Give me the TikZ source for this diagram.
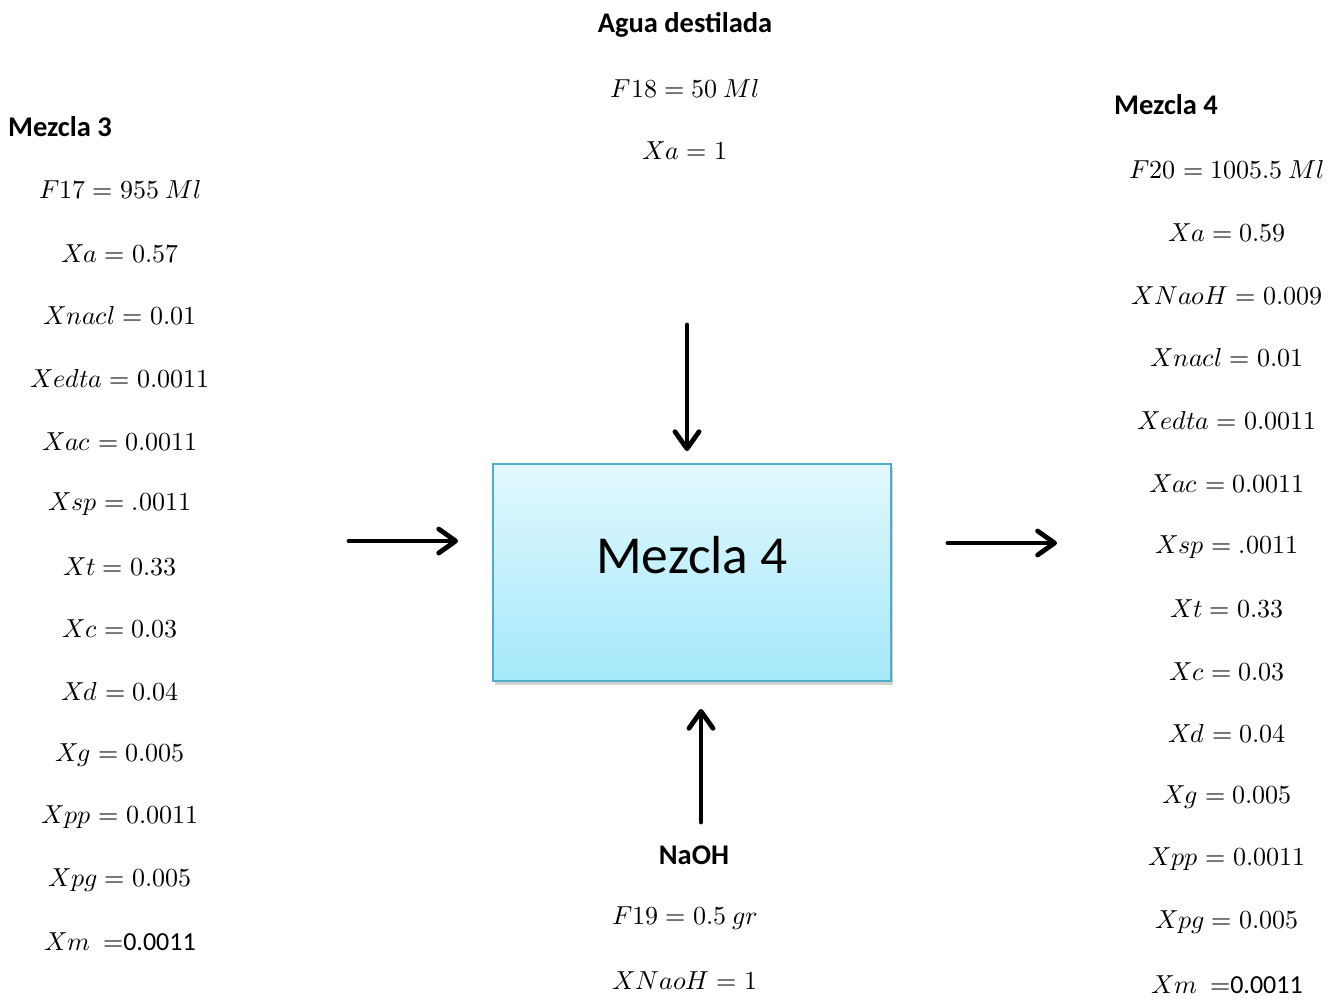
\documentclass[tikz,border=0pt]{standalone}
\usepackage{fontspec}
\usepackage{unicode-math}
\setmainfont{Carlito}
\setmathfont{Latin Modern Math}
\usetikzlibrary{arrows.meta,shadows}
\definecolor{boxtop}{HTML}{E2F8FE}
\definecolor{boxbot}{HTML}{A5E9FB}
\definecolor{boxline}{HTML}{4FADC8}
\tikzset{
  lbl/.style={font=\fontsize{28.5}{32}\selectfont\bfseries, inner sep=0pt},
  eq/.style={font=\fontsize{26}{30}\selectfont, inner sep=0pt},
  flow/.style={line width=4.8pt, line cap=round,
    -{Straight Barb[length=17pt,width=24pt,round]}},
  procbox/.style={draw=boxline, line width=1.8pt, top color=boxtop, bottom color=boxbot,
    minimum width=398pt, minimum height=217pt, inner sep=0pt,
    drop shadow={shadow xshift=2pt, shadow yshift=-4pt, opacity=0.3, fill=black!60}},
  boxtext/.style={font=\fontsize{53.5}{60}\selectfont, inner sep=0pt}
}
\begin{document}
\begin{tikzpicture}[x=1pt,y=-1pt]
\useasboundingbox (0,0) rectangle (1332,1003);

% central box
\node[procbox] (box) at (692,572.5) {};
\node[boxtext] (boxlbl) at ([yshift=17pt]box.center) {Mezcla 4};

% top input
\node[lbl] (aguaT) at (685,25) {Agua destilada};
\node[eq] (aguaF) at (685,89) {$F18=50\ Ml$};
\node[eq] (aguaX) at (685,151) {$Xa=1$};

% bottom input
\node[lbl] (naohT) at (694,855) {NaOH};
\node[eq] (naohF) at (685,918) {$F19=0.5\ gr$};
\node[eq] (naohX) at (685,981) {$XNaoH=1$};

% left stream
\node[lbl, anchor=west] (m3T) at (8,127) {Mezcla 3};
\node[eq] (l1) at (120,190) {$F17=955\ Ml$};
\node[eq] (l2) at (120,254) {$Xa=0.57$};
\node[eq] (l3) at (120,316) {$Xnacl=0.01$};
\node[eq] (l4) at (120,379) {$Xedta=0.0011$};
\node[eq] (l5) at (120,442) {$Xac=0.0011$};
\node[eq] (l6) at (120,504) {$Xsp=.0011$};
\node[eq] (l7) at (120,567) {$Xt=0.33$};
\node[eq] (l8) at (120,629) {$Xc=0.03$};
\node[eq] (l9) at (120,692) {$Xd=0.04$};
\node[eq] (l10) at (120,755) {$Xg=0.005$};
\node[eq] (l11) at (120,817) {$Xpp=0.0011$};
\node[eq] (l12) at (120,880) {$Xpg=0.005$};
\node[eq] (l13) at (120,942) {$Xm\ =$0.0011};

% right stream
\node[lbl, anchor=west] (m4T) at (1114,105) {Mezcla 4};
\node[eq] (r1) at (1227,170) {$F20=1005.5\ Ml$};
\node[eq] (r2) at (1227,233) {$Xa=0.59$};
\node[eq] (r3) at (1227,296) {$XNaoH=0.009$};
\node[eq] (r4) at (1227,358) {$Xnacl=0.01$};
\node[eq] (r5) at (1227,421) {$Xedta=0.0011$};
\node[eq] (r6) at (1227,484) {$Xac=0.0011$};
\node[eq] (r7) at (1227,547) {$Xsp=.0011$};
\node[eq] (r8) at (1227,609) {$Xt=0.33$};
\node[eq] (r9) at (1227,672) {$Xc=0.03$};
\node[eq] (r10) at (1227,734) {$Xd=0.04$};
\node[eq] (r11) at (1227,797) {$Xg=0.005$};
\node[eq] (r12) at (1227,859) {$Xpp=0.0011$};
\node[eq] (r13) at (1227,922) {$Xpg=0.005$};
\node[eq] (r14) at (1227,985) {$Xm\ =$0.0011};

% arrows
\coordinate (inL) at (349,541);
\coordinate (inT) at (687,325);
\coordinate (inB) at (701,822);
\coordinate (outR) at (1057,543);
\draw[flow, shorten >=34pt] (inL) -- (inL -| box.west);
\draw[flow, shorten >=12pt] (inT) -- (inT |- box.north);
\draw[flow, shorten >=27pt] (inB) -- (inB |- box.south);
\draw[flow, shorten <=56pt] (outR -| box.east) -- (outR);
\end{tikzpicture}
\end{document}
